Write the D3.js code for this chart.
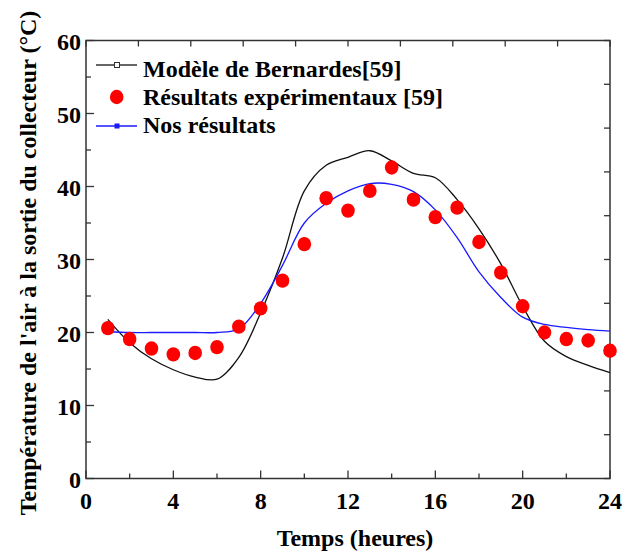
<!DOCTYPE html>
<html><head><meta charset="utf-8">
<script src="https://cdn.jsdelivr.net/npm/d3@7"></script>
<style>body{margin:0;background:#fff}</style>
</head><body>
<script>
const hours = d3.range(1, 25);
const bernardes = [21.8,18.6,16.4,14.9,13.9,13.6,16.6,22.7,30.2,39.4,42.9,44.0,44.9,43.5,41.8,41.2,38.2,34.2,29.4,23.6,18.8,16.7,15.5,14.5];
const experimental = [20.6,19.1,17.8,17.0,17.2,18.0,20.8,23.3,27.1,32.1,38.4,36.7,39.4,42.6,38.2,35.8,37.1,32.4,28.2,23.6,20.0,19.1,18.9,17.5];
const nosResultats = [20.1,20.0,20.0,20.0,20.0,20.0,20.5,24.0,29.2,35.0,37.7,39.4,40.4,40.3,39.3,36.8,33.0,28.3,24.8,22.1,21.1,20.7,20.4,20.2];
const xTicks = [0,4,8,12,16,20,24];
const yTicks = [0,10,20,30,40,50,60];
const legendLabels = ["Modèle de Bernardes[59]","Résultats expérimentaux [59]","Nos résultats"];

const W=632,H=551;
const svg=d3.select("body").append("svg").attr("width",W).attr("height",H);
const font="'Liberation Serif','Times New Roman',serif";
const FS=24;
const x=d3.scaleLinear().domain([0,24]).range([86,610]);
const y=d3.scaleLinear().domain([0,60]).range([478.5,40.5]);

const ax="#333";
svg.append("rect").attr("x",x(0)).attr("y",y(60)).attr("width",x(24)-x(0)).attr("height",y(0)-y(60))
  .attr("fill","none").attr("stroke",ax).attr("stroke-width",1.5);

// bottom ticks
svg.append("g").selectAll("line").data(d3.range(0,25,2)).join("line")
  .attr("x1",d=>x(d)).attr("x2",d=>x(d)).attr("y1",y(0)).attr("y2",d=>y(0)-(d%4===0?8:5))
  .attr("stroke",ax).attr("stroke-width",1.3);
// left ticks
svg.append("g").selectAll("line").data(d3.range(0,61,5)).join("line")
  .attr("y1",d=>y(d)).attr("y2",d=>y(d)).attr("x1",x(0)).attr("x2",d=>x(0)+(d%10===0?8:5))
  .attr("stroke",ax).attr("stroke-width",1.3);
// top ticks (10 divisions)
svg.append("g").selectAll("line").data(d3.range(0,11)).join("line")
  .attr("x1",d=>x(d*2.4)).attr("x2",d=>x(d*2.4)).attr("y1",y(60)).attr("y2",y(60)+6)
  .attr("stroke",ax).attr("stroke-width",1.3);
// right ticks (10 divisions)
svg.append("g").selectAll("line").data(d3.range(0,11)).join("line")
  .attr("y1",d=>y(d*6)).attr("y2",d=>y(d*6)).attr("x1",x(24)).attr("x2",x(24)-6)
  .attr("stroke",ax).attr("stroke-width",1.3);

// tick labels
svg.append("g").selectAll("text").data(xTicks).join("text")
  .attr("x",d=>x(d)).attr("y",509).attr("text-anchor","middle")
  .attr("font-family",font).attr("font-weight","bold").attr("font-size",FS).text(d=>d);
svg.append("g").selectAll("text").data(yTicks).join("text")
  .attr("x",81).attr("y",d=>y(d)+9).attr("text-anchor","end")
  .attr("font-family",font).attr("font-weight","bold").attr("font-size",FS).text(d=>d);

// titles
svg.append("text").attr("x",355).attr("y",546).attr("text-anchor","middle")
  .attr("font-family",font).attr("font-weight","bold").attr("font-size",FS).text("Temps (heures)");
svg.append("text").attr("transform","translate(36,263) rotate(-90)").attr("text-anchor","middle")
  .attr("font-family",font).attr("font-weight","bold").attr("font-size",FS)
  .text("Température de l'air à la sortie du collecteur (°C)");

// curves
const line=(vals)=>d3.line().x((d,i)=>x(hours[i])).y(d=>y(d)).curve(d3.curveCatmullRom.alpha(0.5))(vals);
svg.append("path").attr("d",line(bernardes)).attr("fill","none").attr("stroke","#111").attr("stroke-width",1.3);
svg.append("path").attr("d",line(nosResultats)).attr("fill","none").attr("stroke","#1a1aff").attr("stroke-width",1.3);
svg.append("g").selectAll("ellipse").data(experimental).join("ellipse")
  .attr("cx",(d,i)=>x(hours[i])).attr("cy",d=>y(d)).attr("rx",6.8).attr("ry",7.2).attr("fill","#ff0000");

// legend
const lg=svg.append("g");
const rows=[65,96,126];
lg.append("line").attr("x1",96).attr("x2",137).attr("y1",rows[0]).attr("y2",rows[0]).attr("stroke","#333").attr("stroke-width",1.3);
lg.append("rect").attr("x",114.5).attr("y",rows[0]-2.5).attr("width",5).attr("height",5).attr("fill","#fff").attr("stroke","#333").attr("stroke-width",1);
lg.append("ellipse").attr("cx",116.7).attr("cy",rows[1]+1).attr("rx",6.8).attr("ry",7.2).attr("fill","#ff0000");
lg.append("line").attr("x1",96).attr("x2",137).attr("y1",rows[2]).attr("y2",rows[2]).attr("stroke","#1a1aff").attr("stroke-width",1.3);
lg.append("rect").attr("x",114.5).attr("y",rows[2]-2.5).attr("width",5).attr("height",5).attr("fill","#1a1aff");
lg.selectAll("text").data(legendLabels).join("text")
  .attr("x",143).attr("y",(d,i)=>[77,105,133][i])
  .attr("font-family",font).attr("font-weight","bold").attr("font-size",FS).text(d=>d);
</script>
</body></html>
